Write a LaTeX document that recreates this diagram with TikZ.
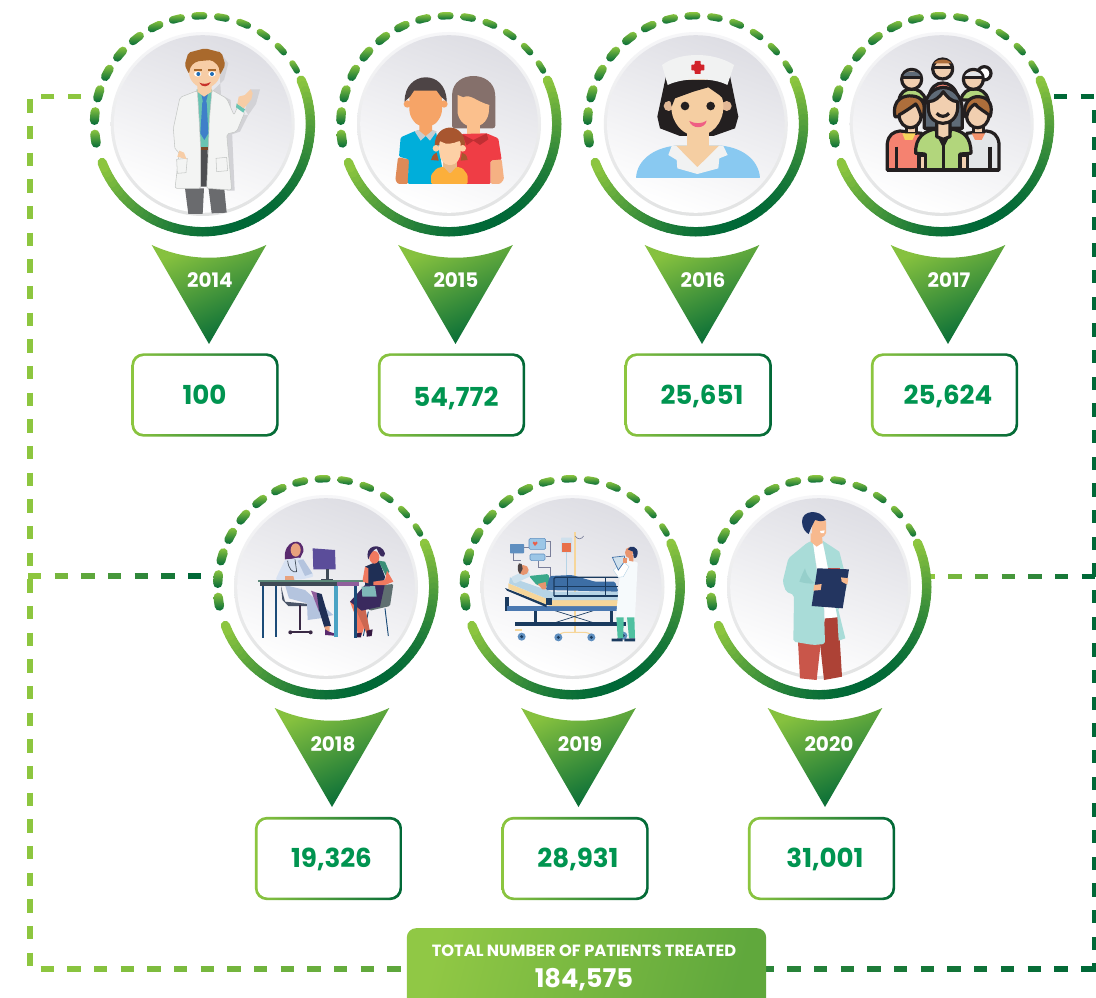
\documentclass[tikz,border=0pt]{standalone}
\usepackage{fontspec}
\setmainfont{Poppins}
\usetikzlibrary{calc}
\definecolor{glight}{HTML}{8DC63F}
\definecolor{gdark}{HTML}{006837}
\definecolor{numgreen}{HTML}{009450}
\definecolor{diskA}{HTML}{DEDEE4}
\definecolor{rimT}{HTML}{F6F6F8}
\definecolor{rimB}{HTML}{E2E3E3}
% doctor
\definecolor{shadowg}{HTML}{D2D2D6}\definecolor{coat}{HTML}{F3F4F3}\definecolor{coatl}{HTML}{C4C7C5}
\definecolor{trous}{HTML}{6A6B6E}\definecolor{trousd}{HTML}{4E4F52}\definecolor{tealsh}{HTML}{69C4B2}
\definecolor{tieb}{HTML}{3F7FC9}\definecolor{beltb}{HTML}{7A4A2A}\definecolor{skinA}{HTML}{F7CDA6}
\definecolor{hairA}{HTML}{A9692C}\definecolor{eyeb}{HTML}{1F6DB5}\definecolor{lipr}{HTML}{C8322B}
% family
\definecolor{manskin}{HTML}{F6A467}\definecolor{manhair}{HTML}{4D4445}\definecolor{manshirt}{HTML}{00AEDA}
\definecolor{manarm}{HTML}{DF8A57}\definecolor{collarg}{HTML}{C6CDD0}\definecolor{wohair}{HTML}{85706B}
\definecolor{woskin}{HTML}{FBC08D}\definecolor{wodress}{HTML}{EF3D45}\definecolor{wocoll}{HTML}{C02F33}
\definecolor{woarm}{HTML}{F5B183}\definecolor{gihair}{HTML}{A8562F}\definecolor{giskin}{HTML}{FDD0A5}
\definecolor{gishirt}{HTML}{FCAF3B}\definecolor{gibody}{HTML}{E8B88A}
% nurse
\definecolor{hatw}{HTML}{F1F2F2}\definecolor{crossr}{HTML}{D2232A}\definecolor{inkb}{HTML}{231F20}
\definecolor{nuear}{HTML}{E2B896}\definecolor{nuskin}{HTML}{F5CEA2}\definecolor{lippk}{HTML}{EF5F84}
\definecolor{nublue}{HTML}{89C9F1}
% crowd
\definecolor{crsalm}{HTML}{F58270}\definecolor{crbrown}{HTML}{AD6E3B}\definecolor{crslate}{HTML}{5F6B78}
\definecolor{crgreen}{HTML}{B2D67C}\definecolor{crgray}{HTML}{E3E5E8}\definecolor{crskin}{HTML}{F1CFB0}
\definecolor{cryel}{HTML}{F6D55C}
% consult
\definecolor{desktop}{HTML}{5D8A7A}\definecolor{deskdk}{HTML}{3F4A56}\definecolor{deskpu}{HTML}{8F5F9C}
\definecolor{navyl}{HTML}{1B4B78}\definecolor{deskbl}{HTML}{4AA3C4}\definecolor{monit}{HTML}{5B4D9A}
\definecolor{stemd}{HTML}{3A2A45}\definecolor{docpurp}{HTML}{5A2A6E}\definecolor{docskin}{HTML}{E8A27E}
\definecolor{doccoat}{HTML}{D8E2F2}\definecolor{docskirt}{HTML}{B4C4DE}\definecolor{docdark}{HTML}{1F2F55}
\definecolor{chairg}{HTML}{4A5568}\definecolor{paskin}{HTML}{F0795F}\definecolor{pasleeve}{HTML}{3A8F78}
\definecolor{paskirt}{HTML}{3A2A5E}\definecolor{pachair}{HTML}{5F6F70}\definecolor{pabag}{HTML}{7FB8B8}
% bed
\definecolor{bednavy}{HTML}{1A3A5E}\definecolor{bedblue}{HTML}{4A78B0}\definecolor{bedbeige}{HTML}{F6D69A}
\definecolor{bedlight}{HTML}{B6D4E6}\definecolor{bedblank}{HTML}{3D6EA5}\definecolor{ivred}{HTML}{E8704A}
\definecolor{ivbag}{HTML}{CFE0EC}\definecolor{monl}{HTML}{9CC6E6}\definecolor{mond}{HTML}{5F8FC0}
\definecolor{tubeg}{HTML}{7A7F9A}\definecolor{hearth}{HTML}{E8604A}\definecolor{ptgreen}{HTML}{3AA88A}
\definecolor{ptskin}{HTML}{E8956E}\definecolor{nurpant}{HTML}{4FC0A0}\definecolor{bedwhite}{HTML}{F6FAFC}
% last doctor
\definecolor{hairN}{HTML}{1F3566}\definecolor{faceN}{HTML}{F7B98E}\definecolor{coatN}{HTML}{A9DCD8}
\definecolor{coatNd}{HTML}{96CFCB}\definecolor{clipN}{HTML}{233560}\definecolor{pantL}{HTML}{C9564A}
\definecolor{pantR}{HTML}{AD4236}
\tikzset{
 linkdash/.style={line width=4.1pt,dash pattern=on 10pt off 10pt},
 linkseg/.style={line width=4.1pt},
 yearlab/.style={text=white,font=\fontsize{15}{15}\selectfont\bfseries,inner sep=0pt,text height=10.5pt,text depth=0pt},
 numlab/.style={text=numgreen,font=\fontsize{19.6}{19.6}\selectfont\bfseries,inner sep=0pt,text height=13.7pt,text depth=0pt},
 outerbox/.style={minimum width=110.5pt,minimum height=62.5pt,rounded corners=9pt,left color=glight,right color=gdark,inner sep=0pt},
 innerbox/.style={minimum width=106.5pt,minimum height=58.5pt,rounded corners=7.5pt,fill=white,inner sep=0pt},
 ol/.style={draw=inkb,line width=2.4pt,line join=round}
}
\newcommand{\band}[5][]{%
 \pgfmathsetmacro\ro{#4+#5/2}\pgfmathsetmacro\ri{#4-#5/2}\pgfmathsetmacro\hw{#5/2}\pgfmathsetmacro\ab{#2+180}%
 \shade[#1] (#2:\ro pt) arc[start angle=#2,end angle=#3,radius=\ro pt]
   arc[start angle=#3,delta angle=-180,radius=\hw pt]
   arc[start angle=#3,end angle=#2,radius=\ri pt]
   arc[start angle=\ab,delta angle=-180,radius=\hw pt] -- cycle;}
\newcommand{\ringat}[3]{%
 \coordinate (#1) at (#2,#3);
 \begin{scope}[shift={(#1)},x=.75pt,y=.75pt]
  \shade[top color=rimT,bottom color=rimB] (0,0) circle[radius=69pt];
  \shade[top color=diskA,bottom color=white,shading angle=-20] (0,0) circle[radius=66.6pt];
  \foreach \s in {0,...,60}{%
    \pgfmathsetmacro\sa{24-3*\s}\pgfmathsetmacro\se{\sa-3.05}%
    \pgfmathsetmacro\tt{max(0,min(100,100*cos(\sa-1.5+68)))}%
    \draw[line width=7pt,line cap=round,gdark!\tt!glight] (\sa:80.8pt) arc[start angle=\sa,end angle=\se,radius=80.8pt];}
  \foreach \k in {0,...,13}{%
    \pgfmathsetmacro\ac{31.8+12*\k}\pgfmathsetmacro\aa{\ac+2.3}\pgfmathsetmacro\az{\ac-2.3}\pgfmathsetmacro\ww{4.6+0.19*\k}%
    \band[top color=glight,bottom color=gdark]{\aa}{\az}{81.2}{\ww}}
 \end{scope}}
\newcommand{\pointerat}[3]{%
 \coordinate (#1) at (#2,#3);
 \shade[top color=glight!95!gdark,bottom color=gdark,shading angle=24] ($(#1)+(-57.3,0)$) .. controls ($(#1)+(-20,17)$) and ($(#1)+(20,17)$) .. ($(#1)+(57.3,0)$) -- ($(#1)+(0,99)$) -- cycle;}
\begin{document}
\begin{tikzpicture}[x=.75pt,y=-.75pt]
\useasboundingbox (0,0) rectangle (1096,998);
\fill[white] (0,0) rectangle (1096,998);
% ------ connectors
\coordinate (tla) at (81,96.5);\coordinate (tlb) at (41,96.5);
\coordinate (lva) at (30,99.3);\coordinate (lvb) at (30,966);
\coordinate (tra) at (1054,96.7);\coordinate (trb) at (1094.5,96.7);
\coordinate (rva) at (1094.5,110);\coordinate (rvb) at (1094.5,971.7);
\coordinate (mla) at (28,576);\coordinate (mra) at (921.7,576.3);\coordinate (bla) at (40.7,969);
\draw[linkdash,glight] (tla) -- (tlb);
\draw[linkdash,glight] (lva) -- (lvb);
\draw[linkdash,gdark] (tra) -- (trb);
\draw[linkdash,gdark] (rva) -- (rvb);
\foreach \i [evaluate=\i as \p using \i/6*100] in {0,...,6}{%
  \draw[linkseg,gdark!\p!glight] ($(mla)+(\i*26.67,0)$) -- ++(13.33,0);
  \draw[linkseg,gdark!\p!glight] ($(mra)+(\i*26.67,0)$) -- ++(13.33,0);}
\foreach \i [evaluate=\i as \p using \i/39*100] in {0,...,39}{%
  \draw[linkseg,gdark!\p!glight] ($(bla)+(\i*26.67,0)$) -- ++(13.33,0);}
% ------ rings
\ringat{r14}{202.7}{124}\ringat{r15}{449}{124}\ringat{r16}{695.8}{124}\ringat{r17}{941.7}{124}
\ringat{r18}{326}{587}\ringat{r19}{572.5}{587}\ringat{r20}{819}{587}
% ------ pointers
\pointerat{p14}{209}{245}\pointerat{p15}{455.5}{245}\pointerat{p16}{702}{245}\pointerat{p17}{948}{245}
\pointerat{p18}{332}{708}\pointerat{p19}{578.5}{708}\pointerat{p20}{825}{708}
\node[yearlab] (y14) at (210,281) {2014};
\node[yearlab] (y15) at (456,281) {2015};
\node[yearlab] (y16) at (703,281) {2016};
\node[yearlab] (y17) at (949,281) {2017};
\node[yearlab] (y18) at (333,744) {2018};
\node[yearlab] (y19) at (580,744) {2019};
\node[yearlab] (y20) at (829,744) {2020};
% ------ boxes
\foreach \n/\x/\y in {a/205/395,b/451.5/395,c/698.2/395,d/944.5/395,e/328.5/858.5,f/575/858.5,g/821.5/858.5}{%
 \node[outerbox] (o\n) at (\x,\y) {};
 \node[innerbox] (i\n) at (\x,\y) {};}
\node[numlab] (n14) at (204.5,395.5) {100};
\node[numlab] (n15) at (456,397) {54,772};
\node[numlab] (n16) at (702,395.5) {25,651};
\node[numlab] (n17) at (948,395.5) {25,624};
\node[numlab] (n18) at (331.5,858.5) {19,326};
\node[numlab] (n19) at (578,858.5) {28,931};
\node[numlab] (n20) at (825,858.5) {31,001};
% ------ total
\node[minimum width=269.5pt,minimum height=62pt,rounded corners=7pt,left color=glight!97!white,right color=glight!68!gdark,shading angle=75,inner sep=0pt] (total) at (586.5,969.5) {};
\node[text=white,font=\fontsize{12.2}{12.2}\selectfont\bfseries,inner sep=0pt] (tott) at (584,951) {TOTAL NUMBER OF PATIENTS TREATED};
\node[text=white,font=\fontsize{19.3}{19.3}\selectfont\bfseries,inner sep=0pt,text height=14pt,text depth=0pt] (totn) at (584,978) {184,575};
% ------ doctor 2014
\begin{scope}[shift={(80,0)},x=.25pt,y=-.25pt]
\fill[shadowg] (415,150) -- (445,190) -- (432,240) -- (398,272) -- (452,300) -- (464,572) -- (440,572) -- cycle;
\fill[shadowg] (512,268) -- (540,268) -- (528,312) -- (505,345) -- (495,330) -- cycle;
\fill[shadowg] (490,345) -- (505,345) -- (480,395) -- (450,405) -- cycle;
\fill[trous] (315,565) -- (372,565) -- (368,642) -- (325,642) -- cycle;
\fill[trous] (385,560) -- (432,558) -- (440,638) -- (395,640) -- cycle;
\fill[trousd] (362,450) -- (383,450) -- (385,560) -- (372,560) -- (362,560) -- cycle;
\fill[tealsh] (350,268) -- (396,268) -- (392,442) -- (358,442) -- cycle;
\fill[beltb] (362,440) -- (383,440) -- (383,451) -- (362,451) -- cycle;
\fill[coat,draw=coatl,line width=.4pt,rounded corners=1.5pt] (352,272) -- (300,292) -- (280,385) -- (285,450) -- (298,455) -- (285,565) -- (362,565) -- (362,450) -- (358,370) -- cycle;
\fill[coat,draw=coatl,line width=.4pt,rounded corners=1.5pt] (396,270) -- (440,295) -- (462,345) -- (475,315) -- (495,335) -- (470,395) -- (440,402) -- (455,570) -- (380,565) -- (385,450) -- (388,360) -- cycle;
\fill[coat,draw=coatl,line width=.4pt] (290,478) -- (322,475) -- (318,518) -- (292,520) -- cycle;
\fill[coat,draw=coatl,line width=.4pt] (408,475) -- (440,472) -- (443,512) -- (410,515) -- cycle;
\fill[tieb] (364,282) -- (384,282) -- (378,306) -- (369,306) -- cycle;
\fill[tieb] (367,306) -- (380,306) -- (385,400) -- (373,420) -- (361,400) -- cycle;
\fill[tealsh] (470,310) -- (495,328) -- (490,338) -- (468,322) -- cycle;
\fill[skinA] (472,312) -- (476,290) -- (495,285) -- (512,268) -- (518,280) -- (514,298) -- (492,325) -- cycle;
\fill[skinA] (292,470) -- (298,452) -- (312,458) -- (320,478) -- cycle;
\fill[skinA] (352,240) -- (395,240) -- (395,275) -- (372,290) -- (352,275) -- cycle;
\fill[skinA] (374,212) ellipse[x radius=48,y radius=52];
\fill[hairA,rounded corners=1.5pt] (327,222) -- (314,195) -- (325,158) -- (375,145) -- (425,158) -- (436,195) -- (420,225) -- (416,198) -- (395,180) -- (350,184) -- (332,198) -- cycle;
\fill[white] (353,222) ellipse[x radius=11,y radius=8];
\fill[white] (396,222) ellipse[x radius=11,y radius=8];
\fill[eyeb] (355,222) circle[radius=6];
\fill[eyeb] (396,222) circle[radius=6];
\fill[hairA] (342,207) -- (366,207) -- (366,212) -- (342,212) -- cycle;
\fill[hairA] (385,207) -- (408,207) -- (408,212) -- (385,212) -- cycle;
\fill[lipr] (358,248) .. controls (370,253) and (380,253) .. (392,246) .. controls (388,262) and (364,264) .. (358,248) -- cycle;
\end{scope}
% ------ family 2015
\begin{scope}[shift={(330,0)},x=.25pt,y=-.25pt]
\fill[wohair,rounded corners=2pt] (366,385) -- (366,290) .. controls (370,210) and (490,210) .. (496,290) -- (496,385) -- cycle;
\fill[woskin] (410,370) -- (450,370) -- (450,425) -- (410,425) -- cycle;
\fill[woskin] (383,285) -- (400,292) .. controls (420,280) and (440,305) .. (478,315) -- (476,340) .. controls (465,395) and (395,395) .. (383,340) -- cycle;
\fill[wodress,rounded corners=1pt] (395,402) -- (470,400) -- (505,415) -- (515,480) -- (482,482) -- (482,552) -- (370,552) -- cycle;
\fill[wocoll] (395,402) -- (430,420) -- (470,400) -- (475,418) -- (450,435) -- (430,422) -- (410,436) -- cycle;
\fill[woarm,rounded corners=1pt] (482,482) -- (515,478) -- (522,538) -- (510,552) -- (482,552) -- cycle;
\fill[manarm,rounded corners=1pt] (204,472) -- (238,478) -- (234,552) -- (204,552) -- (196,540) -- cycle;
\fill[manshirt,rounded corners=1pt] (207,470) -- (212,412) -- (258,392) -- (318,394) -- (345,552) -- (233,552) -- (237,478) -- cycle;
\fill[collarg] (254,394) -- (272,388) -- (287,405) -- (302,388) -- (320,394) -- (300,422) -- (287,408) -- (272,422) -- cycle;
\fill[manskin] (232,312) circle[radius=11];
\fill[manskin] (342,312) circle[radius=11];
\fill[manskin] (268,360) -- (306,360) -- (306,392) -- (287,408) -- (268,392) -- cycle;
\fill[manskin,rounded corners=4pt] (238,268) -- (336,268) -- (336,345) -- (312,378) -- (262,378) -- (238,345) -- cycle;
\fill[manhair] (224,305) .. controls (222,210) and (350,205) .. (350,305) -- (333,290) -- (320,272) -- (252,272) -- (240,290) -- cycle;
\fill[gihair] (303,480) .. controls (308,462) and (315,460) .. (320,458) -- (326,482) -- cycle;
\fill[gihair] (413,480) .. controls (410,462) and (402,460) .. (396,458) -- (392,482) -- cycle;
\fill[gihair] (314,436) .. controls (315,365) and (405,365) .. (405,436) -- cycle;
\fill[gibody] (340,480) -- (380,480) -- (382,522) -- (338,522) -- cycle;
\fill[gishirt,rounded corners=1pt] (303,552) -- (303,525) -- (320,505) -- (340,500) -- (360,522) -- (380,500) -- (398,505) -- (413,525) -- (413,552) -- cycle;
\fill[giskin] (318,445) circle[radius=10];
\fill[giskin] (398,445) circle[radius=10];
\fill[giskin,rounded corners=3pt] (328,418) .. controls (345,435) and (375,430) .. (392,418) -- (392,470) -- (375,495) -- (345,495) -- (328,470) -- cycle;
\end{scope}
% ------ nurse 2016
\begin{scope}[shift={(580,0)},x=.25pt,y=-.25pt]
\fill[nublue,rounded corners=.5pt] (168,534) .. controls (172,480) and (220,445) .. (285,437) -- (425,437) .. controls (490,445) and (535,480) .. (540,534) -- cycle;
\fill[inkb] (258,228) -- (450,228) -- (475,350) -- (465,385) -- (400,408) -- (300,408) -- (240,385) -- (232,350) -- cycle;
\fill[nuskin] (320,390) -- (386,390) -- (386,445) -- (320,445) -- cycle;
\fill[nuear] (266,318) circle[radius=15];
\fill[nuear] (440,318) circle[radius=15];
\fill[nuskin] (352,320) ellipse[x radius=78,y radius=88];
\fill[inkb] (258,240) -- (450,240) -- (434,300) -- (418,285) -- (385,262) -- (340,275) -- (285,295) -- (275,320) -- cycle;
\fill[nuskin] (285,437) -- (420,437) -- (352,505) -- cycle;
\fill[hatw] (275,438) -- (265,465) -- (290,480) -- (292,505) -- (352,522) -- (415,505) -- (418,475) -- (443,465) -- (430,438) -- (418,437) -- (352,502) -- (288,437) -- cycle;
\fill[hatw] (246,195) .. controls (300,155) and (400,155) .. (462,195) -- (442,255) .. controls (400,232) and (310,232) .. (263,255) -- cycle;
\fill[crossr,rounded corners=.5pt] (344,183) -- (362,183) -- (362,194) -- (373,194) -- (373,211) -- (362,211) -- (362,222) -- (344,222) -- (344,211) -- (334,211) -- (334,194) -- (344,194) -- cycle;
\fill[inkb] (315,318) circle[radius=13];
\fill[inkb] (392,318) circle[radius=13];
\fill[lippk] (328,363) .. controls (345,372) and (365,372) .. (380,362) .. controls (375,388) and (335,388) .. (328,363) -- cycle;
\end{scope}
% ------ crowd 2017
\begin{scope}[shift={(825,0)},x=.25pt,y=-.25pt]
\fill[crsalm,ol] (312,290) .. controls (320,235) and (385,235) .. (398,290) -- cycle;
\fill[crskin,ol] (353,207) circle[radius=30];
\fill[crbrown] (327,190) .. controls (335,175) and (370,175) .. (380,190) -- cycle;
\fill[inkb] (323,198) -- (383,198) -- (383,208) -- (323,208) -- cycle;
\fill[crgreen,ol] (222,300) .. controls (228,255) and (290,255) .. (302,300) -- cycle;
\fill[crgreen,ol] (408,300) .. controls (415,255) and (480,255) .. (490,300) -- cycle;
\fill[white,ol] (478,220) circle[radius=20];
\fill[crskin,ol] (260,238) circle[radius=30];
\fill[crslate] (235,228) .. controls (240,210) and (280,210) .. (286,228) -- cycle;
\fill[crskin,ol] (445,238) circle[radius=30];
\fill[crgray] (420,228) .. controls (425,210) and (465,210) .. (470,228) -- cycle;
\draw[ol] (232,232) -- (288,232);
\draw[ol] (418,232) -- (472,232);
% front left
\fill[crsalm,ol] (187,510) -- (187,430) .. controls (190,405) and (205,395) .. (225,393) -- (290,400) -- (290,510) -- cycle;
\fill[crgray,ol] (522,510) -- (522,430) .. controls (518,405) and (505,395) .. (485,393) -- (425,400) -- (425,510) -- cycle;
\fill[crskin,ol] (245,370) -- (275,370) -- (275,400) -- (245,400) -- cycle;
\fill[crskin,ol] (445,370) -- (475,370) -- (475,400) -- (445,400) -- cycle;
\fill[cryel] (232,400) -- (272,400) -- (262,420) -- (240,420) -- cycle;
\fill[crsalm!80!cryel] (440,400) -- (480,400) -- (470,420) -- (450,420) -- cycle;
\fill[crbrown,ol] (210,350) .. controls (200,295) and (240,285) .. (262,288) .. controls (290,290) and (305,310) .. (295,350) -- cycle;
\fill[crbrown,ol] (420,350) .. controls (412,305) and (440,288) .. (462,290) .. controls (495,292) and (505,320) .. (495,350) -- cycle;
\fill[crskin,ol] (222,345) .. controls (240,335) and (262,320) .. (272,312) .. controls (285,330) and (288,350) .. (288,350) .. controls (285,395) and (225,395) .. (222,345) -- cycle;
\fill[crskin,ol] (425,350) .. controls (428,330) and (440,318) .. (450,312) .. controls (460,325) and (480,335) .. (492,345) .. controls (490,395) and (428,395) .. (425,350) -- cycle;
% centre
\fill[crslate,ol] (298,385) -- (298,330) .. controls (300,240) and (410,240) .. (412,330) -- (412,385) -- cycle;
\fill[crgreen,ol] (272,460) .. controls (270,410) and (300,395) .. (325,388) -- (385,388) .. controls (415,395) and (438,410) .. (438,460) -- (405,462) -- (405,510) -- (300,510) -- (300,462) -- cycle;
\fill[cryel,ol] (330,385) -- (380,385) -- (355,435) -- cycle;
\fill[crskin,ol] (335,360) -- (375,360) -- (375,410) -- (355,418) -- (335,410) -- cycle;
\fill[crskin,ol] (310,305) .. controls (330,305) and (345,290) .. (355,275) .. controls (365,290) and (380,305) .. (398,305) -- (398,325) .. controls (395,385) and (312,385) .. (310,325) -- cycle;
\draw[ol] (335,340) .. controls (345,352) and (362,352) .. (372,340);
\fill[crskin,ol] (282,510) -- (282,465) -- (302,465) -- (302,510) -- cycle;
\fill[crskin,ol] (405,510) -- (405,465) -- (428,465) -- (428,510) -- cycle;
\draw[ol] (355,435) -- (355,510);
\draw[ol] (187,510) -- (522,510);
\draw[ol] (215,440) -- (215,510);
\draw[ol] (495,440) -- (495,510);
\end{scope}
% ------ consult 2018
\begin{scope}[shift={(205,470)},x=.25pt,y=-.25pt]
\fill[monit] (323,235) -- (390,240) -- (392,298) -- (325,298) -- cycle;
\fill[deskdk] (363,298) -- (372,298) -- (372,328) -- (363,328) -- cycle;
\fill[deskdk] (348,326) -- (385,326) -- (385,331) -- (348,331) -- cycle;
% doctor chair
\fill[chairg] (228,348) -- (240,395) -- (312,402) -- (310,408) -- (250,408) -- (232,390) -- cycle;
\fill[stemd] (282,405) -- (288,405) -- (288,480) -- (282,480) -- cycle;
\draw[stemd,line width=1.2pt] (255,486) -- (318,486);
\fill[stemd] (256,487) circle[radius=6];
\fill[stemd] (317,487) circle[radius=6];
% doctor
\fill[docskirt] (240,345) -- (300,360) -- (385,435) -- (345,445) -- (308,450) -- (306,400) -- (252,385) -- cycle;
\fill[deskpu] (318,362) -- (335,368) -- (352,420) -- (342,425) -- cycle;
\fill[docdark] (335,368) -- (350,372) -- (378,468) -- (358,472) -- (342,420) -- cycle;
\fill[docskin] (358,470) -- (374,468) -- (374,485) -- (362,485) -- cycle;
\fill[docpurp] (360,478) -- (372,485) -- (388,490) -- (388,497) -- (360,495) -- cycle;
\fill[docpurp] (240,268) .. controls (232,210) and (298,195) .. (295,245) -- (285,265) -- cycle;
\fill[docskin] (272,240) ellipse[x radius=15,y radius=20];
\fill[doccoat,rounded corners=1pt] (213,325) -- (240,270) -- (285,262) -- (322,308) -- (326,320) -- (292,328) -- (213,330) -- cycle;
\fill[docskirt] (278,272) -- (295,268) -- (322,310) -- (300,318) -- cycle;
\draw[deskdk,line width=.5pt] (248,272) .. controls (250,295) and (262,310) .. (275,305) -- (270,268);
\fill[docskin] (240,318) -- (265,318) -- (268,330) -- (240,330) -- cycle;
% patient chair
\fill[pachair,rounded corners=1pt] (565,342) -- (555,408) -- (495,422) -- (485,412) -- (535,345) -- cycle;
\draw[navyl,line width=.7pt] (540,415) -- (550,498);
\draw[navyl,line width=.7pt] (490,425) -- (475,498);
% patient
\fill[paskin] (435,395) -- (468,410) -- (478,470) -- (470,495) -- (458,495) -- (452,440) -- cycle;
\fill[paskin!85!black] (445,395) -- (482,420) -- (495,485) -- (485,490) -- (462,440) -- cycle;
\fill[docpurp!60!black] (455,490) -- (470,488) -- (468,502) -- (448,502) -- cycle;
\fill[docpurp!60!black] (485,482) -- (503,478) -- (500,498) -- (485,500) -- cycle;
\fill[paskirt] (435,395) -- (480,345) -- (540,340) -- (525,410) -- (470,422) -- cycle;
\fill[docdark] (480,290) -- (522,272) -- (540,320) -- (535,345) -- (480,345) -- cycle;
\fill[pasleeve] (520,272) -- (540,275) -- (553,305) -- (542,316) -- cycle;
\fill[paskin] (546,302) -- (565,335) -- (540,345) -- (505,345) -- (505,335) -- (540,330) -- cycle;
\fill[paskin] (480,290) -- (472,335) -- (490,340) -- (490,295) -- cycle;
\fill[paskin] (508,262) ellipse[x radius=15,y radius=19];
\fill[paskirt] (490,268) .. controls (475,225) and (530,215) .. (540,250) .. controls (535,270) and (525,260) .. (515,235) .. controls (505,240) and (495,250) .. (490,268) -- cycle;
\fill[pabag] (470,350) -- (510,348) -- (515,380) -- (472,380) -- cycle;
% desk
\fill[navyl] (170,345) -- (177,345) -- (177,503) -- (170,503) -- cycle;
\fill[navyl] (210,345) -- (216,345) -- (216,500) -- (210,500) -- cycle;
\fill[deskbl] (388,345) -- (399,345) -- (399,500) -- (388,500) -- cycle;
\fill[navyl] (447,345) -- (456,345) -- (456,503) -- (447,503) -- cycle;
\fill[deskdk] (165,335) -- (396,335) -- (396,348) -- (165,348) -- cycle;
\fill[deskpu] (396,335) -- (462,335) -- (462,348) -- (396,348) -- cycle;
\fill[desktop] (160,330) -- (473,330) -- (473,336) -- (160,336) -- cycle;
\end{scope}
% ------ bed 2019
\begin{scope}[shift={(455,470)},x=.25pt,y=-.25pt]
% monitors
\draw[tubeg,line width=.6pt] (175,248) -- (175,272) -- (198,272);
\draw[tubeg,line width=.6pt] (207,232) -- (225,232);
\draw[tubeg,line width=.6pt] (272,215) -- (285,215) -- (285,260) -- (272,260);
\draw[tubeg,line width=.6pt] (250,272) -- (250,292) -- (285,292) -- (285,320);
\fill[mond,rounded corners=.5pt] (165,222) -- (207,222) -- (207,250) -- (165,250) -- cycle;
\fill[monl,draw=mond,line width=.4pt,rounded corners=1pt] (222,205) -- (272,205) -- (272,238) -- (222,238) -- cycle;
\fill[monl,draw=mond,line width=.4pt,rounded corners=1pt] (225,252) -- (270,252) -- (270,272) -- (225,272) -- cycle;
\fill[hearth] (240,228) -- (233,219) .. controls (233,213) and (240,213) .. (240,218) .. controls (241,213) and (248,213) .. (248,219) -- cycle;
% IV
\fill[bedbeige] (358,186) -- (362,186) -- (362,486) -- (358,486) -- cycle;
\draw[tubeg,line width=.5pt] (360,198) .. controls (368,210) and (380,208) .. (386,198);
\fill[ivbag,rounded corners=.5pt] (318,203) -- (351,203) -- (351,248) -- (318,248) -- cycle;
\fill[ivred] (321,220) -- (348,220) -- (348,245) -- (321,245) -- cycle;
\draw[bedlight,line width=.5pt] (334,245) -- (334,315);
\draw[bedbeige,line width=.8pt,rounded corners=1pt] (310,495) -- (325,487) -- (395,487) -- (410,495);
% bed base
\fill[bednavy] (180,456) -- (512,456) -- (512,468) -- (180,468) -- cycle;
\fill[bednavy] (236,420) -- (246,420) -- (246,458) -- (236,458) -- cycle;
\fill[bednavy] (465,420) -- (475,420) -- (475,458) -- (465,458) -- cycle;
\draw[bednavy,line width=.5pt] (300,422) -- (415,458);
\draw[bednavy,line width=.5pt] (415,422) -- (300,458);
\fill[bedbeige] (180,478) -- (200,478) -- (200,484) -- (180,484) -- cycle;
\foreach \wx/\wy in {200/500,310/502,409/502,505/497}{
  \fill[mond] (\wx,\wy) circle[radius=12];
  \fill[bednavy] (\wx,\wy) circle[radius=5];}
\fill[bednavy] (150,380) -- (161,380) -- (161,422) -- (150,422) -- cycle;
\fill[bedblue] (155,408) -- (490,408) -- (490,424) -- (155,424) -- cycle;
\fill[bednavy] (150,354) -- (156,362) -- (275,412) -- (275,402) -- cycle;
\fill[bedbeige] (160,340) -- (285,390) -- (490,390) -- (490,408) -- (285,408) -- (160,356) -- cycle;
\fill[bedlight] (165,322) -- (290,365) -- (490,365) -- (490,390) -- (285,390) -- (162,340) -- cycle;
\fill[bedlight!70!white,rotate around={25:(195,320)},rounded corners=1pt] (170,310) -- (225,310) -- (225,332) -- (170,332) -- cycle;
% patient
\fill[ptskin] (205,300) ellipse[x radius=16,y radius=15];
\fill[manhair] (192,280) .. controls (185,290) and (188,305) .. (195,312) -- (203,296) -- (200,282) -- cycle;
\fill[ptgreen,rounded corners=1pt] (222,318) -- (280,312) -- (290,352) -- (245,345) -- cycle;
\fill[ptskin] (248,342) -- (272,336) -- (275,358) -- (262,358) -- cycle;
\fill[bedblank,rounded corners=1pt] (272,360) -- (285,318) -- (350,315) -- (420,335) -- (480,335) -- (490,365) -- cycle;
% rail
\draw[bednavy,line width=.9pt,rounded corners=1pt] (297,378) -- (297,322) -- (490,322);
\draw[bednavy,line width=.9pt] (297,350) -- (490,350);
\draw[bednavy,line width=.9pt] (297,378) -- (490,378);
\draw[bednavy,line width=.7pt] (338,322) -- (338,378);
\draw[bednavy,line width=.7pt] (452,322) -- (452,378);
\fill[bednavy] (272,384) -- (290,384) -- (290,406) -- (272,406) -- cycle;
% nurse
\fill[nurpant] (484,440) -- (506,440) -- (505,505) -- (488,505) -- cycle;
\fill[nurpant] (516,440) -- (538,440) -- (540,505) -- (522,505) -- cycle;
\fill[bednavy] (470,506) -- (503,505) -- (503,514) -- (470,514) -- cycle;
\fill[bednavy] (508,506) -- (540,505) -- (540,514) -- (508,514) -- cycle;
\fill[bedwhite] (498,278) -- (522,268) -- (548,278) -- (540,442) -- (483,442) -- cycle;
\fill[white,draw=bedlight,line width=.3pt] (475,300) -- (505,275) -- (522,290) -- (505,320) -- (490,322) -- cycle;
\draw[bedblank,line width=.5pt,fill=ivbag] (472,262) -- (508,258) -- (510,272) -- (490,300) -- cycle;
\fill[ptskin] (522,248) ellipse[x radius=12,y radius=16];
\fill[ptskin] (522,255) -- (535,255) -- (535,275) -- (522,272) -- cycle;
\fill[ptskin] (503,265) -- (515,265) -- (515,278) -- (503,278) -- cycle;
\fill[hairN] (518,238) .. controls (525,222) and (550,230) .. (548,250) .. controls (547,262) and (540,268) .. (536,262) -- (534,245) -- cycle;
\end{scope}
% ------ doctor 2020
\begin{scope}[shift={(700,470)},x=.25pt,y=-.25pt]
\fill[pantL] (294,515) -- (362,520) -- (350,630) -- (300,625) -- cycle;
\fill[pantR] (375,445) -- (415,440) -- (426,620) -- (372,630) -- (360,520) -- cycle;
\fill[white] (338,222) -- (368,222) -- (388,295) -- (412,420) -- (412,442) -- (375,445) -- (375,420) -- cycle;
\fill[coatN,rounded corners=1.5pt] (322,218) -- (338,212) -- (350,300) -- (372,418) -- (375,522) -- (340,525) -- (280,515) -- (282,375) -- (258,365) -- (248,335) -- (265,265) -- cycle;
\fill[coatN] (368,212) -- (418,245) -- (432,300) -- (440,350) -- (415,420) -- (436,505) -- (416,512) -- (412,440) -- (385,300) -- cycle;
\fill[coatNd] (315,295) .. controls (305,315) and (300,330) .. (298,335) .. controls (315,340) and (330,342) .. (345,340) .. controls (325,325) and (318,310) .. (315,295) -- cycle;
\fill[faceN] (332,190) -- (365,190) -- (368,218) -- (350,230) -- (332,215) -- cycle;
\fill[faceN,rounded corners=1.5pt] (338,150) -- (378,150) -- (378,195) -- (360,205) -- (335,195) -- cycle;
\fill[white] (360,183) -- (374,181) -- (372,189) -- (362,189) -- cycle;
\fill[hairN] (378,150) .. controls (360,115) and (305,120) .. (306,155) .. controls (306,175) and (318,188) .. (326,192) -- (334,172) -- (345,150) .. controls (355,155) and (365,155) .. (378,150) -- cycle;
\fill[pantL] (385,294) -- (420,294) -- (420,298) -- (385,298) -- cycle;
\fill[clipN] (352,295) -- (447,298) -- (428,415) -- (335,408) -- cycle;
\fill[faceN] (423,322) -- (445,325) -- (442,344) -- (425,335) -- cycle;
\fill[faceN] (342,345) -- (365,342) -- (362,360) -- (340,362) -- cycle;
\end{scope}
\end{tikzpicture}
\end{document}
